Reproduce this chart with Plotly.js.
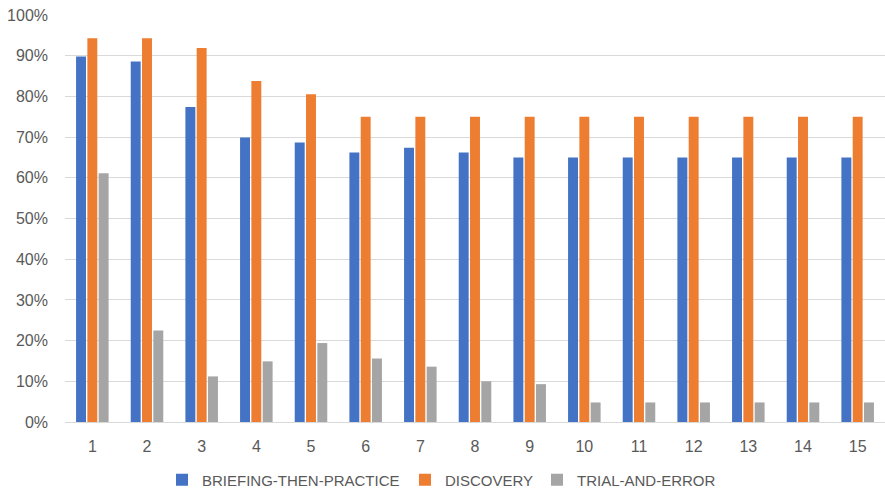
<!DOCTYPE html>
<html>
<head>
<meta charset="utf-8">
<script src="https://cdn.plot.ly/plotly-3.0.1.min.js"></script>
<style>
  html, body { margin: 0; padding: 0; background: #ffffff; }
  #chart { width: 885px; height: 488px; }
</style>
</head>
<body>
<div id="chart"></div>
<script>
// Session numbers along the x axis
const sessions = ['1', '2', '3', '4', '5', '6', '7', '8', '9', '10', '11', '12', '13', '14', '15'];

// Share of participants per session, for each approach
const briefingThenPractice = [0.898, 0.886, 0.774, 0.699, 0.687, 0.662, 0.674, 0.662, 0.650, 0.650, 0.650, 0.650, 0.650, 0.650, 0.650];
const discovery = [0.943, 0.943, 0.919, 0.838, 0.805, 0.750, 0.750, 0.750, 0.750, 0.750, 0.750, 0.750, 0.750, 0.750, 0.750];
const trialAndError = [0.611, 0.225, 0.112, 0.149, 0.194, 0.156, 0.136, 0.100, 0.093, 0.048, 0.048, 0.048, 0.048, 0.048, 0.048];

const seriesNames = ['BRIEFING-THEN-PRACTICE', 'DISCOVERY', 'TRIAL-AND-ERROR'];
const seriesColors = ['#4472C4', '#ED7D31', '#A5A5A5'];
const seriesValues = [briefingThenPractice, discovery, trialAndError];
// each series gets its own legend box so the entries can be spaced freely
const legendIds = ['legend', 'legend2', 'legend3'];
const legendLeft = [162, 405, 537];

const fontFamily = '"Liberation Sans", Arial, sans-serif';
const textGrey = '#595959';

const traces = seriesValues.map((vals, i) => ({
  type: 'bar',
  name: seriesNames[i],
  x: sessions,
  y: vals,
  legend: legendIds[i],
  marker: { color: seriesColors[i], line: { width: 0 } },
  hoverinfo: 'skip'
}));

const layout = {
  width: 885,
  height: 488,
  margin: { l: 65, r: 0, t: 15, b: 66 },
  paper_bgcolor: '#ffffff',
  plot_bgcolor: '#ffffff',
  barmode: 'group',
  bargap: 0.38,
  bargroupgap: 0.12,
  font: { family: fontFamily, color: textGrey, size: 15 },
  xaxis: {
    type: 'category',
    showgrid: false,
    zeroline: false,
    showline: false,
    ticks: '',
    tickfont: { family: fontFamily, size: 16, color: textGrey },
    ticklabelstandoff: 13
  },
  yaxis: {
    range: [0, 1],
    dtick: 0.1,
    tick0: 0,
    tickformat: '.0%',
    showgrid: true,
    gridcolor: '#D9D9D9',
    gridwidth: 1,
    zeroline: true,
    zerolinecolor: '#D9D9D9',
    zerolinewidth: 1,
    showline: false,
    ticks: '',
    tickfont: { family: fontFamily, size: 16, color: textGrey },
    ticklabelstandoff: 16,
    fixedrange: true
  },
  showlegend: true
};

legendIds.forEach((id, i) => {
  layout[id] = {
    orientation: 'h',
    xref: 'container',
    x: legendLeft[i] / 885,
    xanchor: 'left',
    yref: 'container',
    y: 0.0164,
    yanchor: 'middle',
    font: { family: fontFamily, size: 15, color: textGrey },
    bgcolor: 'rgba(0,0,0,0)',
    borderwidth: 0
  };
});

Plotly.newPlot('chart', traces, layout, { displayModeBar: false, staticPlot: true });
</script>
</body>
</html>
